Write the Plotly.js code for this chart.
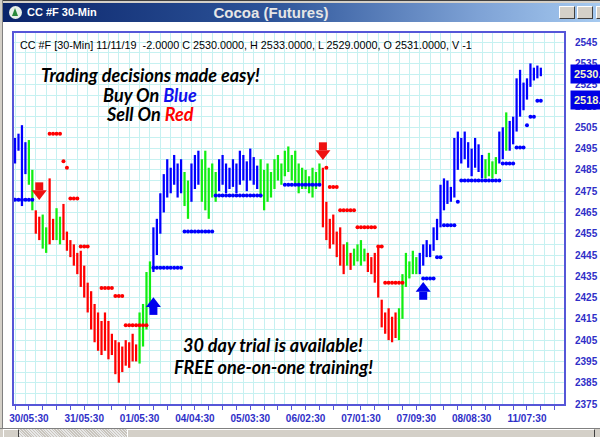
<!DOCTYPE html>
<html><head><meta charset="utf-8">
<script src="https://cdn.plot.ly/plotly-3.0.1.min.js"></script>
<style>
html,body{margin:0;padding:0;width:600px;height:437px;overflow:hidden;background:#fff;}
#plot{position:absolute;left:0;top:0;width:600px;height:437px;}
#topborder{position:absolute;left:0;top:0;width:600px;height:3px;background:#d4d0c8;border-top:1px solid #404040;box-sizing:border-box;}
#titlebar{position:absolute;left:3px;top:3px;width:597px;height:19px;background:linear-gradient(to right,#0a246a 0%,#2d5499 45%,#7fa3d6 80%,#a6caf0 100%);}
#tbleft{position:absolute;left:24px;top:3px;color:#fff;font:bold 11px "Liberation Sans",Arial,sans-serif;}
#tbcenter{position:absolute;left:0;width:536px;top:1px;text-align:center;color:#e6e6e6;font:bold 15px "Liberation Sans",Arial,sans-serif;}
#icon{position:absolute;left:6px;top:3px;width:13px;height:13px;border-radius:7px;background:#e8f0e8;}
#icon:after{content:"";position:absolute;left:3px;top:2px;border-left:3.5px solid transparent;border-right:3.5px solid transparent;border-bottom:8px solid #2a8a3a;}
.btn{position:absolute;top:3px;width:16px;height:13px;background:#d4d0c8;border:1px solid;border-color:#fff #404040 #404040 #fff;box-sizing:border-box;}
#leftborder{position:absolute;left:0;top:0;width:2px;height:437px;background:#d4d0c8;border-right:1px solid #808080;}
#scroll{position:absolute;left:0;top:428px;width:600px;height:9px;background:#d4d0c8;border-top:1px solid #808080;box-sizing:border-box;}
#sbtn{position:absolute;left:3px;top:0;width:16px;height:9px;background:#d4d0c8;border:1px solid;border-color:#fff #404040 #404040 #fff;box-sizing:border-box;}
#strack{position:absolute;left:19px;top:0;width:108px;height:9px;background-image:repeating-linear-gradient(45deg,#e8e8e8 0 1px,#c8c4bc 1px 2px);}
#sthumb{position:absolute;left:127px;top:0;width:468px;height:9px;background:#d4d0c8;border:1px solid;border-color:#fff #404040 #404040 #fff;box-sizing:border-box;}
</style></head><body>
<div id="plot"></div>
<div id="topborder"></div>
<div id="titlebar">
  <div id="icon"></div>
  <div id="tbleft">CC #F 30-Min</div>
  <div id="tbcenter">Cocoa (Futures)</div>
  <div class="btn" style="left:556px;"></div>
  <div class="btn" style="left:574px;"></div>
  <div class="btn" style="left:593px;"></div>
</div>
<div id="leftborder"></div>
<div id="scroll"><div id="sbtn"></div><div id="strack"></div><div id="sthumb"></div></div>
<script>
// ---------- data ----------
const dateLabels = ["30/05:30","31/05:30","01/05:30","04/04:30","05/03:30","06/02:30","07/01:30","07/09:30","08/08:30","11/07:30"];
const dateLabelBars = [4,20,36,52,68,84,100,116,132,148];
const priceTicks = [2375,2385,2395,2405,2415,2425,2435,2445,2455,2465,2475,2485,2495,2505,2515,2525,2535,2545];

const barHigh = [2500,2502,2506,2498,2499,2485,2466,2463,2464,2458,
 2481,2462,2467,2463,2469,2456,2452,2450,2446,2447,
 2440,2432,2428,2422,2418,2414,2418,2414,2408,2405,
 2404,2402,2405,2404,2408,2403,2418,2422,2437,2442,
 2458,2462,2474,2483,2490,2486,2492,2488,2490,2484,
 2480,2488,2492,2494,2490,2494,2486,2488,2484,2490,
 2492,2488,2486,2490,2488,2494,2492,2489,2495,2491,
 2487,2490,2485,2488,2484,2490,2492,2488,2494,2496,
 2492,2494,2488,2486,2485,2482,2486,2484,2488,2486,
 2470,2462,2464,2456,2458,2450,2451,2446,2448,2450,
 2452,2448,2446,2444,2446,2449,2424,2418,2420,2416,
 2418,2420,2436,2446,2442,2447,2444,2446,2450,2452,
 2450,2458,2462,2478,2481,2480,2477,2500,2503,2500,
 2503,2498,2495,2500,2497,2492,2490,2493,2489,2491,
 2503,2505,2512,2508,2510,2528,2532,2526,2528,2535,
 2533,2534,2533];
const barLow = [2488,2494,2468,2483,2478,2466,2455,2452,2448,2446,
 2450,2452,2452,2450,2452,2447,2444,2440,2436,2430,
 2425,2418,2410,2404,2400,2398,2400,2396,2398,2389,
 2385,2390,2393,2392,2395,2395,2394,2402,2410,2420,
 2437,2445,2455,2465,2472,2474,2478,2472,2474,2468,
 2462,2470,2476,2478,2470,2466,2462,2472,2470,2475,
 2478,2474,2476,2477,2474,2478,2480,2475,2480,2478,
 2476,2472,2466,2470,2472,2476,2480,2478,2482,2484,
 2480,2478,2474,2476,2476,2474,2472,2476,2478,2458,
 2452,2448,2450,2444,2440,2436,2440,2438,2440,2442,
 2440,2442,2437,2436,2432,2425,2411,2408,2405,2404,
 2406,2405,2415,2430,2434,2436,2436,2436,2440,2444,
 2444,2447,2452,2458,2466,2469,2470,2472,2485,2488,
 2490,2486,2482,2486,2484,2481,2481,2482,2481,2483,
 2488,2490,2494,2494,2497,2503,2510,2513,2518,2524,
 2527,2528,2529];
const barColor = ("BBBBGGRRGGRRGGRRRRRR" + "RRRRRRRRRRRRRRRRGGGG" +
 "BBBBBBBBBGGBBBGGGGGB" + "BBBBBBBBBBBGGGGGGGGG" +
 "GGGGGGGGGRRRRRRRGRGG" + "GGRRRRRRRRRGGGGGGBBB" +
 "BBBBBBBBBBBBBBBBGGGG" + "BBGBBBBBBBBBB").split("");

const blueStopFrom  = [0, 40, 49, 58, 78, 118, 122, 124, 128, 129, 141, 145, 148, 149, 151];
const blueStopTo    = [5, 48, 57, 71, 88, 121, 123, 127, 128, 140, 144, 147, 148, 150, 152];
const blueStopLevel = [2471, 2439, 2456, 2473, 2478, 2434, 2444, 2459, 2470, 2480, 2488, 2495.5, 2506, 2510, 2517.5];
const redStopFrom   = [10, 14, 15, 16, 19, 25, 29, 32, 90, 91, 94, 99, 105, 107];
const redStopTo     = [13, 14, 15, 18, 21, 28, 31, 38, 90, 93, 98, 104, 106, 112];
const redStopLevel  = [2502, 2489, 2486, 2471.5, 2449, 2429.5, 2425.7, 2412, 2486, 2477, 2466, 2458, 2449, 2432];

const sellArrowBar = [7, 89];
const sellArrowTip = [2470.8, 2489.6];
const buyArrowBar  = [40, 118];
const buyArrowTip  = [2425.2, 2432.3];

const lastPriceLabels = ["2530.0", "2518.5"];
const lastPriceValues = [2530.0, 2518.0];

const headerText = "CC #F [30-Min] 11/11/19  -2.0000 C 2530.0000, H 2533.0000, L 2529.0000, O 2531.0000, V -1";

// ---------- build ----------
const colors = {B:"#0000ff", G:"#11ee11", R:"#ff0000"};
const yRange = [2375, 2549.3];
const xRange = [-0.3, 158.7];
const plotH = 437 - 33 - 33;
const pricePerPx = (yRange[1] - yRange[0]) / plotH;

const traces = [];
for (const key of ["B","G","R"]) {
  const xs = [], base = [], h = [];
  barColor.forEach((c, i) => { if (c === key) { xs.push(i); base.push(barLow[i]); h.push(barHigh[i] - barLow[i]); } });
  traces.push({type:"bar", x:xs, y:h, base:base, width:0.65, marker:{color:colors[key], line:{width:0}}, hoverinfo:"skip"});
}
function stopTrace(from, to, lvl, color) {
  const xs = [], ys = [];
  for (let s = 0; s < from.length; s++) for (let i = from[s]; i <= to[s]; i++) { xs.push(i); ys.push(lvl[s]); }
  return {type:"scatter", mode:"markers", x:xs, y:ys, marker:{color:color, size:4, line:{width:0}}, hoverinfo:"skip"};
}
traces.push(stopTrace(blueStopFrom, blueStopTo, blueStopLevel, "#0000ff"));
traces.push(stopTrace(redStopFrom, redStopTo, redStopLevel, "#ff0000"));

// arrows: triangle head + square shaft
const headSize = 13, shaft = 8;
const headOff = (headSize/2) * pricePerPx;
const shaftOff = (headSize*0.75 + shaft/2) * pricePerPx;
traces.push({type:"scatter", mode:"markers", x:sellArrowBar, y:sellArrowTip.map(p => p + headOff),
  marker:{symbol:"triangle-down", size:headSize, color:"#ee1111", line:{width:0}}, hoverinfo:"skip"});
traces.push({type:"scatter", mode:"markers", x:sellArrowBar, y:sellArrowTip.map(p => p + shaftOff),
  marker:{symbol:"square", size:shaft, color:"#ee1111", line:{width:0}}, hoverinfo:"skip"});
traces.push({type:"scatter", mode:"markers", x:buyArrowBar, y:buyArrowTip.map(p => p - headOff),
  marker:{symbol:"triangle-up", size:headSize, color:"#0000ee", line:{width:0}}, hoverinfo:"skip"});
traces.push({type:"scatter", mode:"markers", x:buyArrowBar, y:buyArrowTip.map(p => p - shaftOff),
  marker:{symbol:"square", size:shaft, color:"#0000ee", line:{width:0}}, hoverinfo:"skip"});

const tickvals = [], ticktext = [];
for (let v = 0; v <= 156; v += 4) {
  tickvals.push(v);
  const k = dateLabelBars.indexOf(v);
  ticktext.push(k >= 0 ? dateLabels[k] : "");
}

const axisBlue = "#5656d8";
const labelBlue = "#2f2fc8";
const gridC = "#c6f1f1";
const FONT = '"Liberation Sans", Arial, sans-serif';
const BIG = 'Lato, "Open Sans", sans-serif';

const annotations = [
  {xref:"paper", yref:"paper", x:0, y:1, xanchor:"left", yanchor:"top", xshift:4, yshift:-4,
   text:headerText, showarrow:false, font:{family:FONT, size:10.8, color:"#000"}},
  {xref:"paper", yref:"paper", x:0.248, y:1, xanchor:"center", yanchor:"middle", yshift:-42, showarrow:false,
   text:"<b><i>Trading decisions made easy!</i></b>", font:{family:BIG, size:18, color:"#000"}},
  {xref:"paper", yref:"paper", x:0.248, y:1, xanchor:"center", yanchor:"middle", yshift:-62, showarrow:false,
   text:'<b><i>Buy On <span style="color:#1010ee">Blue</span></i></b>', font:{family:BIG, size:18, color:"#000"}},
  {xref:"paper", yref:"paper", x:0.248, y:1, xanchor:"center", yanchor:"middle", yshift:-81, showarrow:false,
   text:'<b><i>Sell On <span style="color:#ff0000">Red</span></i></b>', font:{family:BIG, size:18, color:"#000"}},
  {xref:"paper", yref:"paper", x:0.471, y:0, xanchor:"center", yanchor:"middle", yshift:59, showarrow:false,
   text:"<b><i>30 day trial is available!</i></b>", font:{family:BIG, size:18, color:"#000"}},
  {xref:"paper", yref:"paper", x:0.471, y:0, xanchor:"center", yanchor:"middle", yshift:37, showarrow:false,
   text:"<b><i>FREE one-on-one training!</i></b>", font:{family:BIG, size:18, color:"#000"}}
];
lastPriceValues.forEach((v, k) => annotations.push({
  xref:"paper", yref:"y", x:1, y:v, xanchor:"left", yanchor:"middle", xshift:6, showarrow:false,
  text:"<b>" + lastPriceLabels[k] + "</b>", bgcolor:"#0000e6", borderpad:3,
  font:{family:FONT, size:11, color:"#f4f4c8"}
}));

const layout = {
  width:600, height:437,
  margin:{l:14, r:36, t:33, b:33, pad:0},
  paper_bgcolor:"rgba(0,0,0,0)", plot_bgcolor:"#ffffff",
  showlegend:false, barmode:"overlay",
  xaxis:{range:xRange, tickmode:"array", tickvals:tickvals, ticktext:ticktext,
    ticks:"outside", ticklen:4, tickwidth:1, tickcolor:axisBlue,
    showline:true, linecolor:axisBlue, linewidth:2, mirror:true,
    showgrid:false, zeroline:false, fixedrange:true,
    minor:{tickmode:"linear", tick0:0, dtick:3, showgrid:true, gridcolor:gridC, gridwidth:1, ticks:""},
    tickfont:{family:FONT, size:10, color:labelBlue, weight:"bold"}},
  yaxis:{range:yRange, side:"right", tickmode:"array", tickvals:priceTicks,
    ticks:"", ticklabelstandoff:7,
    showline:true, linecolor:axisBlue, linewidth:2, mirror:true,
    showgrid:true, gridcolor:gridC, gridwidth:1, zeroline:false, fixedrange:true,
    minor:{tickmode:"linear", tick0:2375, dtick:5, showgrid:true, gridcolor:gridC, gridwidth:1, ticks:""},
    tickfont:{family:FONT, size:10, color:labelBlue, weight:"bold"}},
  annotations:annotations
};
Plotly.newPlot("plot", traces, layout, {staticPlot:true, displayModeBar:false});
</script>
</body></html>
